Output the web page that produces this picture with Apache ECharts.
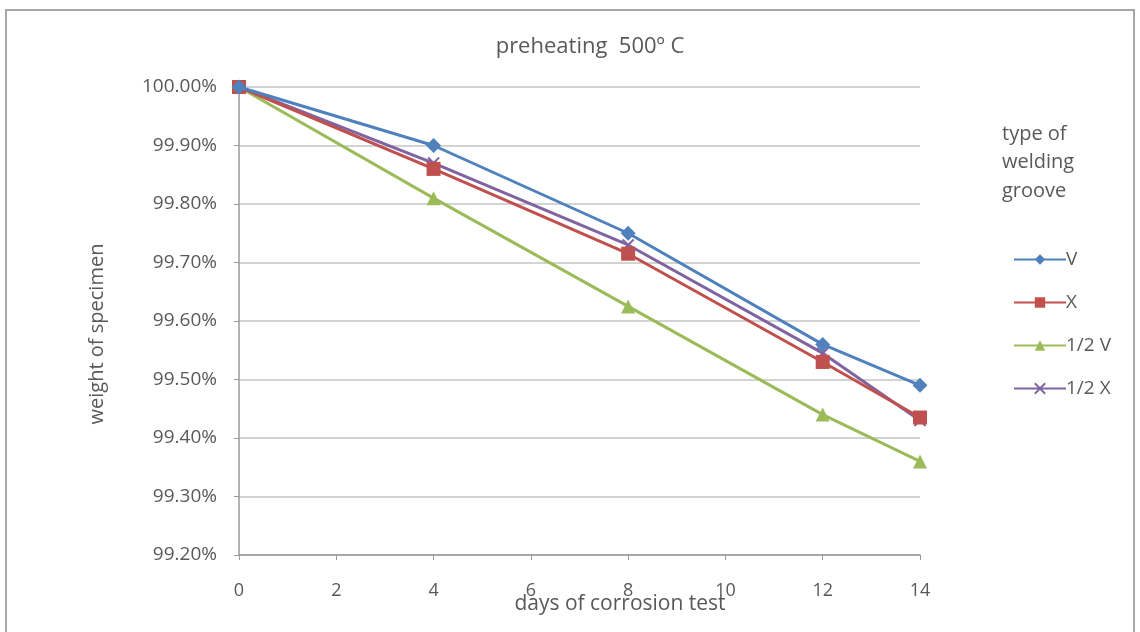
<!DOCTYPE html>
<html><head><meta charset="utf-8">
<script src="https://cdn.jsdelivr.net/npm/echarts@6/dist/echarts.min.js"></script>
<style>html,body{margin:0;padding:0;background:#fff}#c{width:1140px;height:632px}</style>
</head><body><div id="c"></div>
<script>
const days = [0, 4, 8, 12, 14];
const seriesNames = ['V', 'X', '1/2 V', '1/2 X'];
const valV = [100.00, 99.90, 99.75, 99.56, 99.49];
const valX = [100.00, 99.86, 99.715, 99.53, 99.435];
const valHalfV = [100.00, 99.81, 99.625, 99.44, 99.36];
const valHalfX = [100.00, 99.87, 99.73, 99.545, 99.43];
const yTicks = [99.2, 99.3, 99.4, 99.5, 99.6, 99.7, 99.8, 99.9, 100.0];
const titleText = 'preheating  500º C';
const xName = 'days of corrosion test';
const yName = 'weight of specimen';
const legendTitle = ['type of', 'welding', 'groove'];

const colors = ['#4F81BD', '#C0504D', '#9BBB59', '#8064A2'];
const symbols = ['diamond', 'rect', 'triangle', 'path://M0,0L2,2M2,0L0,2'];
const sizes = [15, 14, 14, 11];
const vals = [valV, valX, valHalfV, valHalfX];
const font = '"Open Sans", "DejaVu Sans", sans-serif';
const txt = '#595959';

const chart = echarts.init(document.getElementById('c'));
chart.setOption({
  animation: false,
  backgroundColor: '#fff',
  textStyle: { fontFamily: font },
  title: { text: titleText, left: 585, top: 31, textAlign: 'center',
    textStyle: { fontSize: 22, fontWeight: 'normal', color: txt, fontFamily: font } },
  grid: { left: 239, right: 220, top: 87, bottom: 77 },
  legend: {
    orient: 'vertical', left: 1008, top: 245, itemGap: 24, itemWidth: 52, itemHeight: 13,
    data: seriesNames,
    textStyle: { fontSize: 19, color: txt, fontFamily: font, padding: [0,0,0,-5] }
  },
  graphic: [
    { type: 'text', left: 1002, top: 120, style: { text: legendTitle.join('\n'), lineHeight: 28.5, fontSize: 20, fill: txt, fontFamily: font } },
    { type: 'text', x: 97, y: 334, rotation: Math.PI / 2, style: { text: yName, fontSize: 20, fill: txt, fontFamily: font, align: 'center', verticalAlign: 'middle' } },
    { type: 'text', x: 620, y: 604, style: { text: xName, fontSize: 21, fill: txt, fontFamily: font, align: 'center', verticalAlign: 'middle' } },
    { type: 'rect', shape: { x: 6, y: 10, width: 1128, height: 640 }, style: { fill: 'none', stroke: '#a6a6a6', lineWidth: 2 } }
  ],
  xAxis: {
    type: 'value', min: 0, max: 14, interval: 2,
    axisLine: { lineStyle: { color: '#9a9a9a', width: 1.5 } },
    axisTick: { show: true, length: 5, lineStyle: { color: '#9a9a9a' } },
    axisLabel: { fontSize: 18, color: txt, margin: 27, fontFamily: font },
    splitLine: { show: false }
  },
  yAxis: {
    type: 'value', min: 99.2, max: 100, interval: 0.1,
    axisLine: { show: true, lineStyle: { color: '#9a9a9a', width: 1.5 } },
    axisTick: { show: true, length: 5, lineStyle: { color: '#9a9a9a' } },
    axisLabel: { fontSize: 19, color: txt, margin: 22, fontFamily: font,
      formatter: v => v.toFixed(2) + '%' },
    splitLine: { lineStyle: { color: '#c4c4c4', width: 1.5 } }
  },
  series: seriesNames.map((n, i) => ({
    name: n, type: 'line',
    data: days.map((d, j) => [d, vals[i][j]]),
    symbol: symbols[i], symbolSize: sizes[i],
    lineStyle: { color: colors[i], width: 3 },
    itemStyle: { color: colors[i], borderColor: colors[i], borderWidth: i === 3 ? 2 : 0 },
    z: i === 3 ? 2 : 3 + (3 - i)
  }))
});
</script></body></html>
